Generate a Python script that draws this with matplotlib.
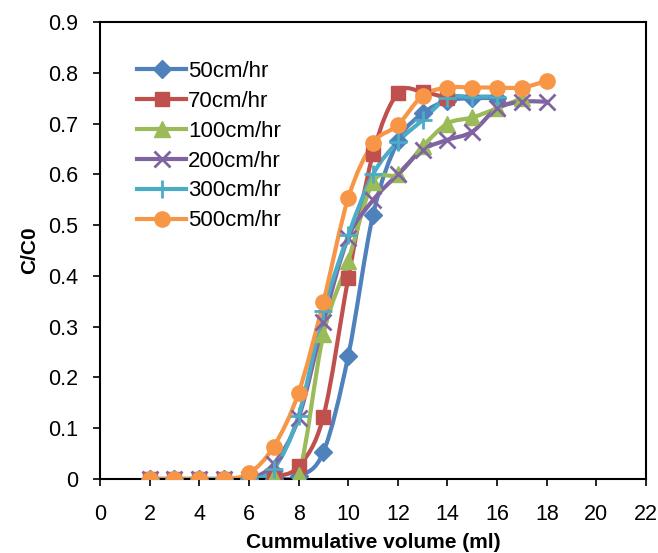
import matplotlib
matplotlib.use("Agg")
import matplotlib.pyplot as plt
from matplotlib.path import Path
from matplotlib.patches import PathPatch
from matplotlib.lines import Line2D

plt.rcParams['font.family'] = ['Liberation Sans', 'DejaVu Sans']

# data (x = cumulative volume in ml, y = C/C0)
vol_50 = [2, 3, 4, 5, 6, 7, 8, 9, 10, 11, 12, 13, 14, 15, 16]
c_50 = [0, 0, 0, 0, 0, 0, 0.005, 0.053, 0.242, 0.52, 0.665, 0.72, 0.745, 0.75, 0.75]

vol_70 = [2, 3, 4, 5, 6, 7, 8, 9, 10, 11, 12, 13, 14]
c_70 = [0, 0, 0, 0, 0, 0.005, 0.025, 0.123, 0.395, 0.641, 0.76, 0.762, 0.75]

vol_100 = [2, 3, 4, 5, 6, 7, 8, 9, 10, 11, 12, 13, 14, 15, 16, 17]
c_100 = [0, 0, 0, 0, 0, 0.003, 0.008, 0.285, 0.43, 0.585, 0.60, 0.655, 0.70, 0.712, 0.73, 0.75]

vol_200 = [2, 3, 4, 5, 6, 7, 8, 9, 10, 11, 12, 13, 14, 15, 16, 17, 18]
c_200 = [0, 0, 0, 0, 0, 0.03, 0.12, 0.31, 0.475, 0.549, 0.60, 0.648, 0.668, 0.684, 0.73, 0.743, 0.743]

vol_300 = [2, 3, 4, 5, 6, 7, 8, 9, 10, 11, 12, 13, 14, 15, 16]
c_300 = [0, 0, 0, 0, 0, 0.02, 0.125, 0.33, 0.48, 0.60, 0.664, 0.707, 0.75, 0.753, 0.753]

vol_500 = [2, 3, 4, 5, 6, 7, 8, 9, 10, 11, 12, 13, 14, 15, 16, 17, 18]
c_500 = [0, 0, 0, 0, 0.011, 0.064, 0.17, 0.349, 0.553, 0.661, 0.697, 0.755, 0.771, 0.771, 0.771, 0.771, 0.784]

series = [
    ("50cm/hr", vol_50, c_50, "#4F81BD", "D", 9),
    ("70cm/hr", vol_70, c_70, "#C0504D", "s", 10),
    ("100cm/hr", vol_100, c_100, "#9BBB59", "^", 11),
    ("200cm/hr", vol_200, c_200, "#8064A2", "x", 12),
    ("300cm/hr", vol_300, c_300, "#4BACC6", "+", 13),
    ("500cm/hr", vol_500, c_500, "#F79646", "o", 11),
]


def smooth_path(x, y):
    """Excel-style smoothed line as cubic Bezier segments through the points"""
    pts = list(zip(x, y))
    n = len(pts)
    verts = [pts[0]]
    codes = [Path.MOVETO]
    for i in range(n - 1):
        p0 = pts[i - 1] if i > 0 else pts[i]
        p1 = pts[i]
        p2 = pts[i + 1]
        p3 = pts[i + 2] if i + 2 < n else pts[i + 1]
        c1 = (p1[0] + (p2[0] - p0[0]) / 6, p1[1] + (p2[1] - p0[1]) / 6)
        c2 = (p2[0] - (p3[0] - p1[0]) / 6, p2[1] - (p3[1] - p1[1]) / 6)
        verts += [c1, c2, p2]
        codes += [Path.CURVE4] * 3
    return Path(verts, codes)


fig = plt.figure(figsize=(6.58, 5.53), dpi=100)
ax = fig.add_axes([0.152, 0.1338, 0.8298, 0.8264])

handles = []
for label, x, y, color, marker, ms in series:
    ax.add_patch(PathPatch(smooth_path(x, y), fill=False, edgecolor=color,
                           lw=3, zorder=2, capstyle='round'))
    mew = 2 if marker in ("x", "+") else 1
    ax.plot(x, y, linestyle='none', marker=marker, ms=ms, color=color,
            mec=color, mew=mew, zorder=3)
    handles.append(Line2D([], [], color=color, lw=3, marker=marker, ms=ms,
                          mec=color, mew=mew))

ax.set_xlim(0, 22)
ax.set_ylim(0, 0.9)
ax.set_xticks(range(0, 23, 2))
ax.set_yticks([i / 10 for i in range(10)])
ax.set_yticklabels(["0"] + [f"{i / 10:.1f}" for i in range(1, 10)])
ax.tick_params(direction='out', length=5, width=1.2, labelsize=15.5, colors='black')
ax.tick_params(axis='x', pad=13)
ax.tick_params(axis='y', pad=11)
for s in ax.spines.values():
    s.set_linewidth(1.5)

ax.set_xlabel("Cummulative volume (ml)", fontsize=15, fontweight='bold')
ax.xaxis.set_label_coords(0.5, -0.118)
ax.set_ylabel("C/C0", fontsize=15, fontweight='bold')
ax.yaxis.set_label_coords(-0.112, 0.5)

ax.legend(handles, [s[0] for s in series], loc='upper left',
          bbox_to_anchor=(0.068, 0.915), frameon=False, fontsize=16,
          handlelength=2.2, labelspacing=0.4, handletextpad=0.1,
          borderaxespad=0, borderpad=0)

fig.savefig("out.png", dpi=100)
plt.close(fig)
